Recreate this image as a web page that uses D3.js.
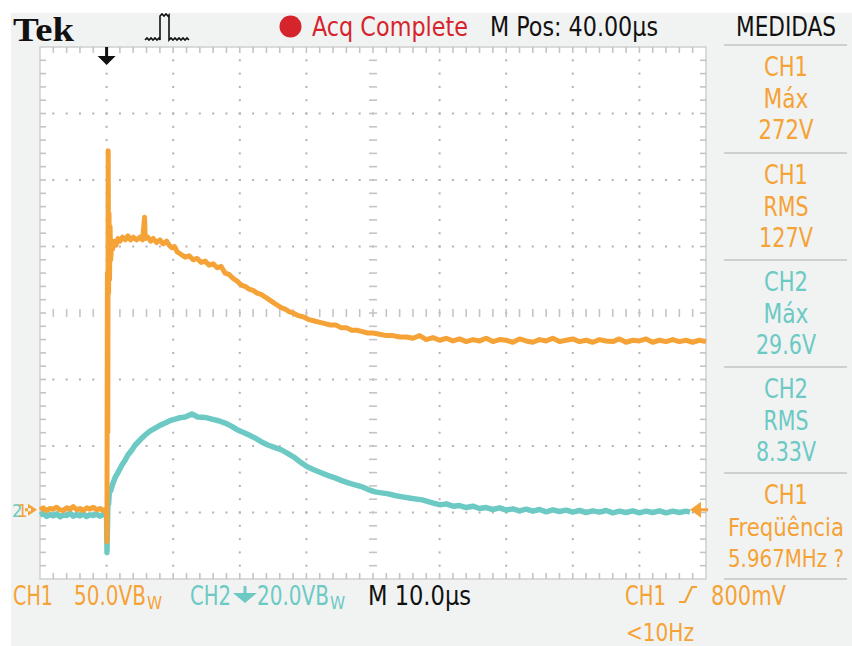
<!DOCTYPE html>
<html>
<head>
<meta charset="utf-8">
<script src="https://cdn.jsdelivr.net/npm/d3@7"></script>
<style>
  html, body { margin: 0; padding: 0; background: #ffffff; }
  svg { display: block; }
</style>
</head>
<body>
<svg id="scope" width="852" height="646"></svg>
<script>
// ---- Acquisition record (time in µs relative to trigger, volts per channel) ----
const ch1Time = [-10,-9.5,-9,-8.5,-8,-7.5,-7,-6.5,-6,-5.5,-5,-4.5,-4,-3.5,-3,-2.5,-2,-1.5,-1,-0.5,-0.1,
  0,0.05,0.12,0.18,0.24,0.3,0.36,0.44,0.52,0.62,0.75,0.9,1.1,1.4,1.7,2,2.4,2.8,3.2,3.6,4,4.5,5,5.4,5.7,5.8,
  6.2,6.6,7,7.5,8,8.5,9,9.4,9.8,10.2,10.6,11.2,11.8,12.4,13,13.6,14.2,14.8,15.4,16,16.6,17.2,17.8,18.4,19,
  19.6,20.2,20.8,21.4,22,22.6,23.2,23.8,24.4,25,25.6,26.2,26.8,27.4,28,28.8,29.6,30.4,31.2,32,32.8,33.6,
  34.4,35.2,36,36.8,37.6,38.4,39.2,40,41,42,43,44,45,46,47,48,49,50,51,52,53,54,55,56,57,58,59,60,61,62,
  63,64,65,66,67,68,69,70,71,72,73,74,75,76,77,78,79,80,81,82,83,84,85,86,87,88,89,90];
const ch1Volts = [2,3.5,1.5,3,2.5,4,2,1.5,3.5,2.5,4.5,2,3,1.5,3.5,2.5,4,2,3,1.5,2.5,
  2,-22,180,60,272,165,225,175,215,190,203,198,204,201,206,204,207,205,208,205,207,205,207,205,222,206,
  207,204,206,203,205,202,204,201,199,200,196,194,192,193,190,191,188,189,186,187,184,185,180,179,176,
  174,171,170,168,167,165,164,162,160,158,156,154,153,151,150,148,147,145,144,143,142,141,
  141,139,139,137,137,136,135,135,134,133,133,132,132,131,133,130,131.5,129.5,131,129,130.5,128.5,130,129,131,128.5,130,129.5,128,130.5,
  129,128,130,129,131,128.5,129.5,130.5,128.5,129.5,128,130,129,128.5,130.5,128,129.5,129,130.5,128,129.5,128.5,130,128.5,129.5,128,129.5,128.5];

const ch2Time = [-10,-9.5,-9,-8.5,-8,-7.5,-7,-6.5,-6,-5.5,-5,-4.5,-4,-3.5,-3,-2.5,-2,-1.5,-1,-0.5,-0.1,
  0,0.06,0.14,0.22,0.3,0.4,0.6,0.9,1.26,1.7,2.3,2.8,3.2,3.8,4.3,5,5.8,6.5,7.3,8,8.8,9.5,10.3,11,11.8,12.8,
  13.7,14.8,15.8,16.8,17.8,18.8,19.7,21,22.3,23.2,24.2,25.3,26.3,27.3,28.3,29.2,30.2,31.2,32.3,33.3,34.3,
  35.3,36.3,37.3,38.4,39.3,40.3,41.3,42.3,43.3,44.4,45.9,47.4,48.8,50.1,51,52,53,54,55,56,57,58,59,60,61,
  62,63,64,65,66,67,68,69,70,71,72,73,74,75,76,77,78,79,80,81,82,83,84,85,86,87,87.6];
const ch2Volts = [-0.8,-0.3,-1.2,-0.6,-1,-0.4,-1.3,-0.7,-0.9,-0.2,-1.1,-0.6,-1,-0.4,-1.2,-0.7,-0.9,-0.5,-1.1,-0.6,-0.9,
  -1,-12,-3,5,2.5,6,6.5,8.5,10.4,12,14.3,15.8,17.3,18.8,20.3,21.8,23.3,24.5,25.4,26.2,26.9,27.6,28.1,28.5,28.7,29.6,
  28.7,28.6,28.1,27.6,26.9,25.9,24.8,23.7,22.4,21.3,20.3,19.5,18.8,17.6,16.4,15,13.7,12.8,11.9,11.1,10.4,
  9.6,8.9,8.3,7.7,6.9,6.2,5.9,5.6,5.1,4.7,4.2,3.8,3,2.3,2.6,1.9,2.1,1.5,1.9,1.2,1.5,0.9,1.4,0.7,1.1,
  0.5,1,0.4,0.9,0.2,0.8,0.3,0.7,0.1,0.6,0,0.5,0.1,0.6,-0.1,0.4,0,0.5,-0.1,0.4,0,0.5,-0.1,0.4,0,0.4,0.1];

// Channel / timebase settings shown in the status bars
const ch1VoltsPerDiv = 50;
const ch2VoltsPerDiv = 20;
const timePerDiv = 10;          // µs
const groundDiv = -3;           // both channel references sit 3 divisions below centre

// Measurement panel
const measureChannel = ["CH1", "CH1", "CH2", "CH2", "CH1"];
const measureName    = ["Máx", "RMS", "Máx", "RMS", "Freqüência"];
const measureValue   = ["272V", "127V", "29.6V", "8.33V", "5.967MHz ?"];

const ORANGE = "#f5a236";
const CYAN = "#6dc9c4";
const RED = "#d6242c";
const FONT = "'Liberation Sans Narrow', 'DejaVu Sans Condensed', 'Arial Narrow', sans-serif";

const svg = d3.select("#scope");

// ---- Scales: 10 horizontal × 8 vertical divisions ----
const x = d3.scaleLinear().domain([-timePerDiv, 9 * timePerDiv]).range([40, 706]);
const div = d3.scaleLinear().domain([-4, 4]).range([579, 47]);
const y1 = v => div(v / ch1VoltsPerDiv + groundDiv);
const y2 = v => div(v / ch2VoltsPerDiv + groundDiv);

// ---- Instrument bezel ----
svg.append("rect").attr("x", 11).attr("y", 13).attr("width", 841).attr("height", 633).attr("fill", "#f1f3f3");
svg.append("rect").attr("x", x.range()[0]).attr("y", div(4))
  .attr("width", x.range()[1] - x.range()[0]).attr("height", div(-4) - div(4)).attr("fill", "#ffffff");

const grid = svg.append("g");
const dotColor = "#b2b2b2";
const minorT = d3.range(-10, 90.001, timePerDiv / 5);
const minorD = d3.range(-4, 4.001, 0.2);

// dotted graticule lines
[0, 10, 20, 30, 50, 60, 70, 80].forEach(t => {
  minorD.slice(1, -1).forEach(d => {
    grid.append("rect").attr("x", x(t) - 1).attr("y", div(d) - 1).attr("width", 2).attr("height", 2).attr("fill", dotColor);
  });
});
[-3, -2, -1, 1, 2, 3].forEach(d => {
  minorT.slice(1, -1).forEach(t => {
    grid.append("rect").attr("x", x(t) - 1).attr("y", div(d) - 1).attr("width", 2).attr("height", 2).attr("fill", dotColor);
  });
});
// centre cross with minor ticks
minorD.slice(1, -1).forEach(d => {
  grid.append("line").attr("x1", x(40) - 4).attr("x2", x(40) + 4).attr("y1", div(d)).attr("y2", div(d))
    .attr("stroke", "#c4c4c4").attr("stroke-width", 1.6);
});
minorT.slice(1, -1).forEach(t => {
  grid.append("line").attr("x1", x(t)).attr("x2", x(t)).attr("y1", div(0) - 4).attr("y2", div(0) + 4)
    .attr("stroke", "#c4c4c4").attr("stroke-width", 1.6);
});
// frame with edge ticks
grid.append("rect").attr("x", x.range()[0]).attr("y", div(4))
  .attr("width", x.range()[1] - x.range()[0]).attr("height", div(-4) - div(4))
  .attr("fill", "none").attr("stroke", "#cfcfcf").attr("stroke-width", 1.5);
minorT.slice(1, -1).forEach(t => {
  grid.append("line").attr("x1", x(t)).attr("x2", x(t)).attr("y1", div(4)).attr("y2", div(4) + 6).attr("stroke", "#c4c4c4").attr("stroke-width", 1.6);
  grid.append("line").attr("x1", x(t)).attr("x2", x(t)).attr("y1", div(-4)).attr("y2", div(-4) - 6).attr("stroke", "#c4c4c4").attr("stroke-width", 1.6);
});
minorD.slice(1, -1).forEach(d => {
  grid.append("line").attr("x1", x.range()[0]).attr("x2", x.range()[0] + 6).attr("y1", div(d)).attr("y2", div(d)).attr("stroke", "#c4c4c4").attr("stroke-width", 1.6);
  grid.append("line").attr("x1", x.range()[1]).attr("x2", x.range()[1] - 6).attr("y1", div(d)).attr("y2", div(d)).attr("stroke", "#c4c4c4").attr("stroke-width", 1.6);
});

// ---- Waveforms ----
const ch1 = ch1Time.map((t, i) => ({ t, v: ch1Volts[i] }));
const ch2 = ch2Time.map((t, i) => ({ t, v: ch2Volts[i] }));

svg.append("path").datum(ch2)
  .attr("d", d3.line().x(d => x(d.t)).y(d => y2(d.v)))
  .attr("fill", "none").attr("stroke", CYAN).attr("stroke-width", 5.5).attr("stroke-linejoin", "round");
svg.append("path").datum(ch1)
  .attr("d", d3.line().x(d => x(d.t)).y(d => y1(d.v)))
  .attr("fill", "none").attr("stroke", ORANGE).attr("stroke-width", 5).attr("stroke-linejoin", "round");

// ---- Markers: trigger position, trigger level, channel references ----
const tx = x(0);
svg.append("path").attr("d", `M${tx - 1.5},47 h3 v9 h-3 Z M${tx - 9},56 L${tx + 9},56 L${tx},65 Z`).attr("fill", "#111");

const trigY = y1(2);
svg.append("path").attr("d", `M690,${trigY} L701,${trigY - 8} L701,${trigY + 8} Z M700,${trigY - 1.5} h8 v3 h-8 Z`).attr("fill", ORANGE);

// stacked reference indicators "2" and "1"
const gY = y1(2);
const refMark = svg.append("text").attr("x", 12).attr("y", gY + 7).attr("font-family", FONT).attr("font-size", 18);
refMark.append("tspan").attr("fill", CYAN).text("2");
refMark.append("tspan").attr("fill", ORANGE).attr("dx", -5).text("1");
svg.append("path").attr("d", `M37,${gY} L28,${gY - 6} L28,${gY + 6} Z M25,${gY - 1.5} h6 v3 h-6 Z`).attr("fill", ORANGE);

// ---- Text helper ----
function label(str, px, py, width, color, opts = {}) {
  const t = svg.append("text")
    .attr("x", px).attr("y", py)
    .attr("font-family", opts.family || FONT)
    .attr("font-size", opts.size || 26)
    .attr("font-weight", opts.weight || "normal")
    .attr("fill", color)
    .attr("text-anchor", opts.anchor || "start")
    .text(str);
  if (width) t.attr("textLength", width).attr("lengthAdjust", "spacingAndGlyphs");
  return t;
}
// channel scale readout with bandwidth-limit subscript
function scaleLabel(str, px, py, width, color) {
  const t = svg.append("text").attr("x", px).attr("y", py)
    .attr("font-family", FONT).attr("font-size", 26).attr("fill", color);
  t.append("tspan").attr("textLength", width).attr("lengthAdjust", "spacingAndGlyphs").text(str);
  t.append("tspan").attr("font-size", 17).attr("dy", 4).attr("dx", 1).text("W");
  return t;
}

// ---- Top status bar ----
label("Tek", 13, 41, 61, "#111", { family: "'Liberation Serif', 'DejaVu Serif', serif", size: 34, weight: "bold" });
// pulse icon
svg.append("path")
  .attr("d", "M145,40 l2,-2 l2,2 l2,-2 l2,2 l2,-2 l2,2 l2,-2 l1,2 V16 l2,-2 l2,2 l2,-2 l2,2 l1,-1 V40 l2,-2 l2,2 l2,-2 l2,2 l2,-2 l2,2 l2,-2 l2,2 l2,-2 l2,2")
  .attr("fill", "none").attr("stroke", "#111").attr("stroke-width", 1.6);
svg.append("circle").attr("cx", 290.5).attr("cy", 26.5).attr("r", 11).attr("fill", RED);
label("Acq Complete", 312, 36, 156, RED);
label("M Pos: 40.00µs", 490, 36, 168, "#111");
label("MEDIDAS", 736, 36, 100, "#111");

// ---- Measurement panel ----
const sepY = [45, 153, 260, 367, 473, 579];
sepY.forEach(yy => {
  svg.append("line").attr("x1", 724).attr("x2", 847).attr("y1", yy).attr("y2", yy)
    .attr("stroke", "#c2c4c4").attr("stroke-width", 1.5);
});
const measureWidths = [
  [44, 45, 55], [44, 45, 54], [44, 45, 60], [44, 45, 60], [44, 116, 116]
];
measureChannel.forEach((ch, i) => {
  const col = ch === "CH1" ? ORANGE : CYAN;
  const base = sepY[i];
  const sz = i === 4 ? 25 : 26;
  label(ch, 786, base + 31, measureWidths[i][0], col, { anchor: "middle" });
  label(measureName[i], 786, base + 63, measureWidths[i][1], col, { anchor: "middle", size: sz });
  label(measureValue[i], 786, base + 94, measureWidths[i][2], col, { anchor: "middle", size: sz });
});

// ---- Bottom status bar ----
label("CH1", 13, 605, 40, ORANGE);
scaleLabel("50.0VB", 74, 605, 72, ORANGE);
label("CH2", 190, 605, 41, CYAN);
svg.append("path").attr("d", "M243.5,586 h3 v8 h-3 Z M233,593 L257,593 L245,603 Z").attr("fill", CYAN);
scaleLabel("20.0VB", 257, 605, 72, CYAN);
label("M 10.0µs", 368, 605, 103, "#111");
label("CH1", 625, 605, 41, ORANGE);
svg.append("path").attr("d", "M679,602 H685 L692,587 H697").attr("fill", "none").attr("stroke", ORANGE).attr("stroke-width", 2.2);
label("800mV", 711, 605, 75, ORANGE);
label("<10Hz", 626, 641, 68, ORANGE, { size: 25 });
</script>
</body>
</html>
